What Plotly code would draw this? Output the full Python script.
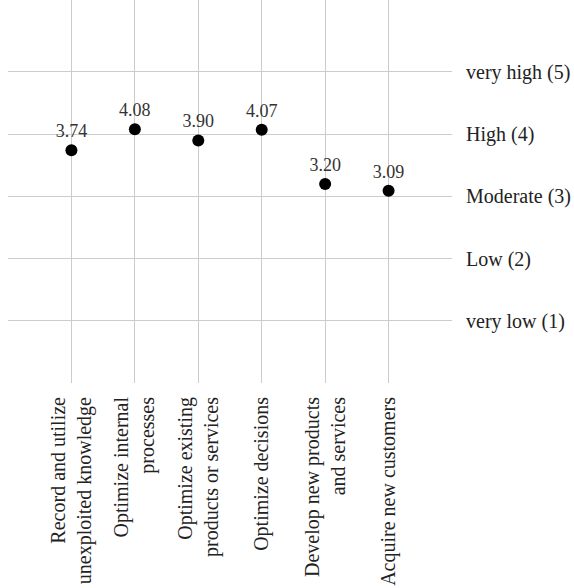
import plotly.graph_objects as go

categories = [
    "Record and utilize<br>unexploited knowledge",
    "Optimize internal<br>processes",
    "Optimize existing<br>products or services",
    "Optimize decisions",
    "Develop new products<br>and services",
    "Acquire new customers",
]
values = [3.74, 4.08, 3.90, 4.07, 3.20, 3.09]
level_vals = [1, 2, 3, 4, 5]
level_labels = ["very low (1)", "Low (2)", "Moderate (3)", "High (4)", "very high (5)"]

positions = list(range(1, len(categories) + 1))

fig = go.Figure(go.Scatter(
    x=positions,
    y=values,
    mode="markers+text",
    marker=dict(size=12, color="black"),
    text=[f"{v:.2f}" for v in values],
    textposition="top center",
    textfont=dict(family="Liberation Serif", size=18, color="#333"),
    cliponaxis=False,
    hoverinfo="skip",
))

fig.update_layout(
    width=574, height=588,
    margin=dict(l=8, r=122, t=0, b=205),
    plot_bgcolor="white", paper_bgcolor="white",
    showlegend=False,
    font=dict(family="Liberation Serif", size=20, color="#222"),
)
fig.update_xaxes(
    range=[0, 7],
    tickvals=positions,
    ticktext=categories,
    tickangle=-90,
    showgrid=True, gridcolor="#cccccc", gridwidth=1,
    zeroline=False, showline=False, automargin=False,
    ticks="outside", ticklen=5, tickcolor="rgba(0,0,0,0)",
    tickfont=dict(family="Liberation Serif", size=20, color="#222"),
)
fig.update_yaxes(
    range=[0, 6.157],
    side="right",
    tickvals=level_vals,
    ticktext=level_labels,
    showgrid=True, gridcolor="#cccccc", gridwidth=1,
    zeroline=False, showline=False, automargin=False,
    ticks="outside", ticklen=9, tickcolor="rgba(0,0,0,0)",
    tickfont=dict(family="Liberation Serif", size=20, color="#222"),
)

fig.write_html("out.html", config={"displayModeBar": False},
               post_script="document.body.style.margin='0';")
